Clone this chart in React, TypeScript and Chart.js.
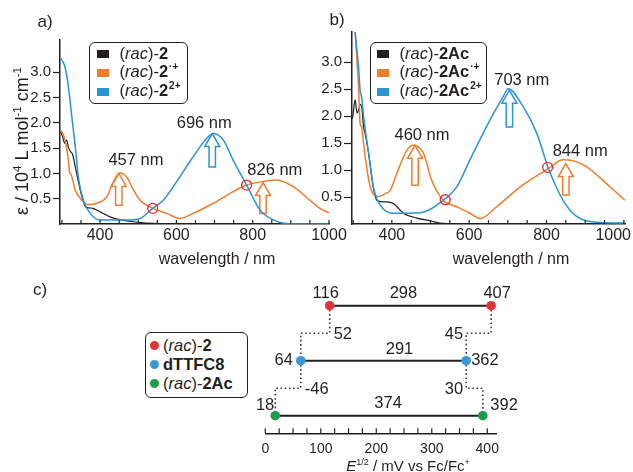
import React, { useEffect, useRef } from 'react';
import { Chart, registerables } from 'chart.js';

Chart.register(...registerables);

const FONT = '"Liberation Sans", Arial, Helvetica, sans-serif';
Chart.defaults.font.family = FONT;

const INK = '#231f20';
const COL_NEUTRAL = '#231f20';
const COL_RADICAL = '#ef7d2d';
const COL_DICATION = '#2a94d4';
const COL_ISO = '#e42a2e';

// ---------------- shared tick values / titles ----------------
const wavelengthTickLabels = [400, 600, 800, 1000];
const wavelengthMinorStep = 50;
const epsTickValues = [0.5, 1.0, 1.5, 2.0, 2.5, 3.0];
const potentialTickLabels = [0, 100, 200, 300, 400];
const potentialMinorStep = 25;
const xTitle = 'wavelength / nm';

// ---------------- panel a : (rac)-2 ----------------
const aCompound = '(rac)-2';
const seriesCharges = ['', '·+', '2+'];
const aNeutralNm = [297, 302, 307, 312, 317, 322, 328, 335, 342, 348, 355, 361, 370, 382, 392, 400, 413, 426, 442, 461, 482, 505, 540, 600, 700, 850, 1000];
const aNeutralEps = [1.82, 1.72, 1.6, 1.66, 1.52, 1.44, 1.38, 1.13, 0.88, 0.67, 0.47, 0.35, 0.32, 0.31, 0.27, 0.24, 0.19, 0.14, 0.1, 0.07, 0.05, 0.03, 0.015, 0.005, 0, 0, 0];
const aRadicalNm = [297, 300, 308, 317, 320, 324, 335, 352, 369, 391, 418, 435, 451, 470, 487, 505, 538, 575, 609, 644, 697, 749, 784, 827, 863, 906, 950, 976, 1000];
const aRadicalEps = [1.85, 1.82, 1.67, 1.26, 1.03, 0.98, 0.67, 0.47, 0.38, 0.41, 0.54, 0.84, 1.01, 0.93, 0.68, 0.47, 0.31, 0.21, 0.11, 0.21, 0.41, 0.64, 0.77, 0.84, 0.87, 0.74, 0.47, 0.31, 0.22];
const aDicationNm = [297, 300, 308, 317, 326, 335, 343, 356, 374, 400, 470, 505, 538, 566, 592, 644, 679, 697, 723, 749, 784, 819, 854, 889, 950, 1000];
const aDicationEps = [3.28, 3.24, 3.11, 2.71, 2.12, 1.53, 0.93, 0.47, 0.21, 0.08, 0.08, 0.11, 0.31, 0.47, 0.74, 1.33, 1.69, 1.79, 1.66, 1.26, 0.77, 0.28, 0.08, 0.01, 0, 0];
const aIsoNm = [538, 784];
const aIsoEps = [0.31, 0.77];
const aPeakNm = [457, 696, 826];

// ---------------- panel b : (rac)-2Ac ----------------
const bCompound = '(rac)-2Ac';
const bNeutralNm = [297, 299, 305, 310, 314, 318, 322, 327, 331, 340, 352, 361, 375, 387, 404, 430, 465, 499, 533, 600, 800, 1003];
const bNeutralEps = [1.95, 1.99, 2.3, 2.06, 2.11, 2.22, 2.17, 1.8, 1.68, 1.31, 0.69, 0.44, 0.41, 0.41, 0.38, 0.2, 0.11, 0.06, 0.01, 0, 0, 0];
const bRadicalNm = [297, 305, 310, 314, 318, 322, 326, 331, 344, 365, 380, 396, 413, 439, 456, 470, 482, 503, 533, 568, 602, 628, 671, 732, 805, 843, 870, 904, 964, 1003];
const bRadicalEps = [4.2, 3.6, 3.0, 2.54, 1.86, 1.8, 1.55, 1.25, 0.69, 0.51, 0.55, 0.63, 0.94, 1.37, 1.46, 1.42, 1.31, 0.81, 0.44, 0.32, 0.2, 0.1, 0.32, 0.69, 1.03, 1.19, 1.17, 1.06, 0.69, 0.44];
const bDicationNm = [297, 305, 314, 318, 322, 327, 340, 352, 370, 404, 473, 533, 568, 602, 654, 688, 701, 740, 775, 805, 843, 878, 938, 1003];
const bDicationEps = [4.3, 3.56, 2.91, 2.48, 2.35, 1.99, 1.31, 0.69, 0.35, 0.2, 0.21, 0.44, 0.69, 1.19, 1.93, 2.36, 2.51, 2.17, 1.68, 1.03, 0.44, 0.14, 0.03, 0.02];
const bIsoNm = [538, 803];
const bIsoEps = [0.45, 1.05];
const bPeakNm = [460, 703, 844];

// ---------------- panel c : redox potentials ----------------
const compounds = ['(rac)-2', 'dTTFC8', '(rac)-2Ac'];
const compoundColors = ['#e3343a', '#3a98d6', '#1d9c4c'];
const eFirst = [116, 64, 18];
const eSecond = [407, 362, 392];
const eGapLabels = [298, 291, 374];
const shiftFirst = [52, -46];
const shiftSecond = [45, 30];

// ---------------- layout (not data) ----------------
const panelA = {
  letter: 'a)', letterPos: [45, 22], compound: aCompound,
  series: [
    { nm: aNeutralNm, eps: aNeutralEps, color: COL_NEUTRAL, width: 1.2 },
    { nm: aRadicalNm, eps: aRadicalEps, color: COL_RADICAL, width: 1.5 },
    { nm: aDicationNm, eps: aDicationEps, color: COL_DICATION, width: 1.5 },
  ],
  isoNm: aIsoNm, isoEps: aIsoEps,
  arrows: [
    { nm: 449, from: 0.37, to: 1.0, color: COL_RADICAL },
    { nm: 694, from: 1.13, to: 1.79, color: COL_DICATION },
    { nm: 827, from: 0.21, to: 0.82, color: COL_RADICAL },
  ],
  peaks: aPeakNm, peakAnchors: [[494, 1.25], [673, 1.99], [858, 1.05]],
  xMin: 295, xMax: 1000, yMax: 3.64,
  canvasLeft: 0, canvasW: 350, canvasH: 272, yAxisWidth: 60, padTop: 40, padRight: 21, bottom: 224,
  tickLen: 7, showYTitle: true,
};
const panelB = {
  letter: 'b)', letterPos: [37, 20], compound: bCompound,
  series: [
    { nm: bNeutralNm, eps: bNeutralEps, color: COL_NEUTRAL, width: 1.2 },
    { nm: bRadicalNm, eps: bRadicalEps, color: COL_RADICAL, width: 1.5 },
    { nm: bDicationNm, eps: bDicationEps, color: COL_DICATION, width: 1.5 },
  ],
  isoNm: bIsoNm, isoEps: bIsoEps,
  arrows: [
    { nm: 460, from: 0.72, to: 1.46, color: COL_RADICAL },
    { nm: 704, from: 1.8, to: 2.48, color: COL_DICATION },
    { nm: 850, from: 0.54, to: 1.12, color: COL_RADICAL },
  ],
  peaks: bPeakNm, peakAnchors: [[478, 1.65], [736, 2.67], [887, 1.34]],
  xMin: 297, xMax: 1003, yMax: 3.56,
  canvasLeft: 300, canvasW: 333, canvasH: 272, yAxisWidth: 52, padTop: 32, padRight: 8, bottom: 224,
  tickLen: 8, showYTitle: false,
};

type Part = { t: string; sup?: boolean; italic?: boolean; bold?: boolean };

function drawRich(ctx: any, parts: Part[], size: number, supSize: number, x: number, y: number, align: string) {
  const fontFor = (p: Part) => `${p.italic ? 'italic ' : ''}${p.bold ? 'bold ' : ''}${p.sup ? supSize : size}px ${FONT}`;
  let total = 0;
  parts.forEach((p) => { ctx.font = fontFor(p); total += ctx.measureText(p.t).width; });
  let cx = align === 'center' ? x - total / 2 : align === 'right' ? x - total : x;
  ctx.textAlign = 'left';
  ctx.textBaseline = 'alphabetic';
  parts.forEach((p) => {
    ctx.font = fontFor(p);
    ctx.fillText(p.t, cx, p.sup ? y - size * 0.4 : y);
    cx += ctx.measureText(p.t).width;
  });
}

function spectrumDecor(P: any) {
  return {
    id: 'spectrumDecor',
    beforeDatasetsDraw(chart: any) {
      const { ctx } = chart;
      const xs = chart.scales.x, ys = chart.scales.y;
      ctx.save();
      P.arrows.forEach((a: any) => {
        const x = xs.getPixelForValue(a.nm);
        const tip = ys.getPixelForValue(a.to);
        const base = ys.getPixelForValue(a.from);
        const hh = 13, hw = 7.5, sw = 3.2;
        ctx.beginPath();
        ctx.moveTo(x, tip);
        ctx.lineTo(x + hw, tip + hh);
        ctx.lineTo(x + sw, tip + hh);
        ctx.lineTo(x + sw, base);
        ctx.lineTo(x - sw, base);
        ctx.lineTo(x - sw, tip + hh);
        ctx.lineTo(x - hw, tip + hh);
        ctx.closePath();
        ctx.fillStyle = '#ffffff';
        ctx.fill();
        ctx.lineWidth = 1.5;
        ctx.lineJoin = 'miter';
        ctx.strokeStyle = a.color;
        ctx.stroke();
      });
      ctx.restore();
    },
    afterDraw(chart: any) {
      const { ctx, chartArea: area } = chart;
      const xs = chart.scales.x, ys = chart.scales.y;
      ctx.save();
      // inward minor ticks on the wavelength axis
      ctx.strokeStyle = INK;
      ctx.lineWidth = 1.2;
      for (let v = Math.ceil(P.xMin / wavelengthMinorStep) * wavelengthMinorStep; v <= P.xMax; v += wavelengthMinorStep) {
        const px = xs.getPixelForValue(v);
        ctx.beginPath();
        ctx.moveTo(px, area.bottom);
        ctx.lineTo(px, area.bottom - 4);
        ctx.stroke();
      }
      // tick labels
      ctx.fillStyle = INK;
      ctx.font = `16px ${FONT}`;
      ctx.textAlign = 'center';
      ctx.textBaseline = 'alphabetic';
      wavelengthTickLabels.forEach((v) => {
        const s = String(v);
        const w = ctx.measureText(s).width;
        let px = xs.getPixelForValue(v);
        px = Math.min(px, chart.width - 2 - w / 2);
        ctx.fillText(s, px, area.bottom + 15.5);
      });
      // axis title
      ctx.font = `16px ${FONT}`;
      ctx.fillText(xTitle, (area.left + area.right) / 2 + 22.5, 264);
      // y title
      if (P.showYTitle) {
        ctx.save();
        ctx.translate(22, 141);
        ctx.rotate(-Math.PI / 2);
        drawRich(ctx, [
          { t: 'ε', italic: false },
          { t: ' / 10' },
          { t: '4', sup: true },
          { t: ' L mol' },
          { t: '-1', sup: true },
          { t: ' cm' },
          { t: '-1', sup: true },
        ], 18, 11.5, 0, 6, 'center');
        ctx.restore();
      }
      // peak labels
      ctx.fillStyle = INK;
      ctx.font = `16.5px ${FONT}`;
      ctx.textAlign = 'center';
      ctx.textBaseline = 'middle';
      P.peaks.forEach((nm: number, i: number) => {
        const [ax, ay] = P.peakAnchors[i];
        ctx.fillText(`${nm} nm`, xs.getPixelForValue(ax), ys.getPixelForValue(ay));
      });
      // panel letter
      ctx.font = `17px ${FONT}`;
      ctx.fillText(P.letter, P.letterPos[0], P.letterPos[1]);
      ctx.restore();
    },
  };
}

function spectrumConfig(P: any): any {
  const orders = [3, 2, 1];
  const datasets: any[] = P.series.map((s: any, k: number) => ({
    label: `${P.compound}${seriesCharges[k]}`,
    data: s.nm.map((x: number, i: number) => ({ x, y: s.eps[i] })),
    showLine: true,
    borderColor: s.color,
    backgroundColor: s.color,
    borderWidth: s.width,
    pointRadius: 0,
    cubicInterpolationMode: 'monotone',
    fill: false,
    order: orders[k],
  }));
  datasets.push({
    label: 'isosbestic points',
    data: P.isoNm.map((x: number, i: number) => ({ x, y: P.isoEps[i] })),
    showLine: false,
    pointRadius: 5,
    pointBorderColor: COL_ISO,
    pointBackgroundColor: 'rgba(0,0,0,0)',
    pointBorderWidth: 1.3,
    order: 0,
    clip: false,
  });
  return {
    type: 'scatter',
    data: { datasets },
    options: {
      responsive: false,
      animation: false,
      events: [],
      layout: { padding: { top: P.padTop, right: P.padRight, left: 0, bottom: 0 } },
      plugins: { legend: { display: false }, tooltip: { enabled: false } },
      scales: {
        x: {
          type: 'linear', min: P.xMin, max: P.xMax,
          grid: { display: false },
          ticks: { display: false },
          border: { display: true, color: INK, width: 1.5 },
          afterFit: (s: any) => { s.height = P.canvasH - P.bottom; },
        },
        y: {
          type: 'linear', min: 0, max: P.yMax,
          afterBuildTicks: (s: any) => { s.ticks = epsTickValues.map((v) => ({ value: v })); },
          ticks: { font: { size: 15, family: FONT }, color: INK, padding: 2, callback: (v: any) => Number(v).toFixed(1) },
          grid: { display: true, drawOnChartArea: false, drawTicks: true, tickLength: P.tickLen, tickColor: INK, tickWidth: 1.2 },
          border: { display: true, color: INK, width: 1.5 },
          afterFit: (s: any) => { s.width = P.yAxisWidth; },
        },
      },
    },
    plugins: [spectrumDecor(P)],
  };
}

// panel c layout
const C_TOP = 262;
const C_H = 210;
const levels = compounds.map((_, i) => compounds.length - i);
const pointLabelPlacement = [
  { firstAlign: 'center', firstDx: -4, secondAlign: 'center', secondDx: 6, dy: -12.5 },
  { firstAlign: 'right', firstDx: -8, secondAlign: 'left', secondDx: 5, dy: 0 },
  { firstAlign: 'right', firstDx: -1, secondAlign: 'left', secondDx: 7.5, dy: -10.5 },
];
const gapLabelDx = [-7, 16, 9];
const gapLabelDy = [-12.5, -11.5, -12.5];

const diagramDecor = {
  id: 'diagramDecor',
  afterDraw(chart: any) {
    const { ctx, chartArea: area } = chart;
    const xs = chart.scales.x, ys = chart.scales.y;
    const X = (v: number) => xs.getPixelForValue(v);
    const Y = (v: number) => ys.getPixelForValue(v);
    ctx.save();
    ctx.strokeStyle = INK;
    ctx.lineWidth = 1.2;
    for (let v = 0; v <= xs.max + 0.01; v += potentialMinorStep) {
      const px = X(v);
      ctx.beginPath();
      ctx.moveTo(px, area.bottom);
      ctx.lineTo(px, area.bottom - 5);
      ctx.stroke();
    }
    ctx.fillStyle = INK;
    ctx.textAlign = 'center';
    ctx.textBaseline = 'alphabetic';
    ctx.font = `14px ${FONT}`;
    potentialTickLabels.forEach((v) => ctx.fillText(String(v), X(v), area.bottom + 20));
    drawRich(ctx, [
      { t: 'E', italic: true },
      { t: '1/2', sup: true },
      { t: ' / mV vs Fc/Fc' },
      { t: '+', sup: true },
    ], 15, 9, (area.left + area.right) / 2 + 27, 209, 'center');

    ctx.font = `17px ${FONT}`;
    ctx.textAlign = 'center';
    ctx.textBaseline = 'middle';
    ctx.fillText('c)', 40, 28);

    ctx.font = `16.5px ${FONT}`;
    ctx.textBaseline = 'middle';
    compounds.forEach((_, i) => {
      const y = Y(levels[i]);
      const x1 = X(eFirst[i]);
      const x2 = X(eSecond[i]);
      const pl = pointLabelPlacement[i];
      ctx.textAlign = pl.firstAlign;
      ctx.fillText(String(eFirst[i]), x1 + pl.firstDx, y + pl.dy);
      ctx.textAlign = pl.secondAlign;
      ctx.fillText(String(eSecond[i]), x2 + pl.secondDx, y + pl.dy);
      ctx.textAlign = 'center';
      ctx.fillText(String(eGapLabels[i]), (x1 + x2) / 2 + gapLabelDx[i], y + gapLabelDy[i]);
    });
    for (let i = 0; i < compounds.length - 1; i++) {
      const yMid = Y((levels[i] + levels[i + 1]) / 2);
      ctx.textAlign = 'left';
      ctx.fillText(String(shiftFirst[i]), X(Math.max(eFirst[i], eFirst[i + 1])) + 4, yMid + 1);
      ctx.textAlign = 'right';
      ctx.fillText(String(shiftSecond[i]), X(Math.min(eSecond[i], eSecond[i + 1])) - 3, yMid + 1);
    }
    ctx.restore();
  },
};

function diagramConfig(): any {
  const datasets: any[] = compounds.map((name, i) => ({
    label: name,
    data: [{ x: eFirst[i], y: levels[i] }, { x: eSecond[i], y: levels[i] }],
    showLine: true,
    borderColor: INK,
    borderWidth: 2,
    pointRadius: 4.8,
    pointBackgroundColor: compoundColors[i],
    pointBorderColor: compoundColors[i],
    pointBorderWidth: 0,
    order: 0,
    clip: false,
  }));
  for (let i = 0; i < compounds.length - 1; i++) {
    const yMid = (levels[i] + levels[i + 1]) / 2;
    [[eFirst[i], eFirst[i + 1]], [eSecond[i], eSecond[i + 1]]].forEach(([a, b]) => {
      datasets.push({
        label: 'shift',
        data: [{ x: a, y: levels[i] }, { x: a, y: yMid }, { x: b, y: yMid }, { x: b, y: levels[i + 1] }],
        showLine: true,
        borderColor: '#3a3a3a',
        borderWidth: 1.6,
        borderDash: [1.6, 2.6],
        pointRadius: 0,
        order: 1,
        clip: false,
      });
    });
  }
  return {
    type: 'scatter',
    data: { datasets },
    options: {
      responsive: false,
      animation: false,
      events: [],
      layout: { padding: { top: 18, left: 265.3, right: 633 - 496.7, bottom: 0 } },
      plugins: { legend: { display: false }, tooltip: { enabled: false } },
      scales: {
        x: {
          type: 'linear', min: 0, max: 417,
          grid: { display: false },
          ticks: { display: false },
          border: { display: true, color: INK, width: 1.5 },
          afterFit: (s: any) => { s.height = C_H - (433.3 - C_TOP); },
        },
        y: { type: 'linear', display: false, min: 0.68, max: 3.467 },
      },
    },
    plugins: [diagramDecor],
  };
}

function RichName({ name, charge }: { name: string; charge?: string }) {
  const rac = name.startsWith('(rac)-');
  const rest = rac ? name.slice(6) : name;
  return (
    <span>
      {rac ? (<>(<i>rac</i>)-</>) : null}
      <b>{rest}</b>
      {charge ? (
        <b style={{ fontSize: 10, position: 'relative', top: -7, marginLeft: 1 }}>{charge}</b>
      ) : null}
    </span>
  );
}

function LegendBox({ left, top, width, height, padTop, children }: any) {
  return (
    <div
      style={{
        position: 'absolute', left, top, width, height, boxSizing: 'border-box',
        border: `1.5px solid ${INK}`, borderRadius: 6, background: '#fff',
        fontSize: 16.5, lineHeight: '19px', paddingTop: padTop, color: INK, fontFamily: FONT,
        whiteSpace: 'nowrap',
      }}
    >
      {children}
    </div>
  );
}

function SpectrumLegend({ left, swatchLeft, compound }: any) {
  const colors = [COL_NEUTRAL, COL_RADICAL, COL_DICATION];
  return (
    <LegendBox left={left} top={41.7} width={compound.length > 7 ? 117 : 99} height={62.3} padTop={1.5}>
      {seriesCharges.map((ch, k) => (
        <div key={k} style={{ display: 'flex', alignItems: 'center', height: 19 }}>
          <span style={{ display: 'inline-block', width: 12, height: 8, background: colors[k], marginLeft: swatchLeft, marginRight: 11 }} />
          <RichName name={compound} charge={ch} />
        </div>
      ))}
    </LegendBox>
  );
}

export default function App() {
  const refA = useRef<HTMLCanvasElement>(null);
  const refB = useRef<HTMLCanvasElement>(null);
  const refC = useRef<HTMLCanvasElement>(null);

  useEffect(() => {
    const charts = [
      new Chart(refA.current as HTMLCanvasElement, spectrumConfig(panelA)),
      new Chart(refB.current as HTMLCanvasElement, spectrumConfig(panelB)),
      new Chart(refC.current as HTMLCanvasElement, diagramConfig()),
    ];
    return () => charts.forEach((c) => c.destroy());
  }, []);

  return (
    <div style={{ position: 'absolute', left: 0, top: 0, width: 633, height: 472, background: '#fff', overflow: 'hidden', fontFamily: FONT, color: INK }}>
      <canvas ref={refA} width={panelA.canvasW} height={panelA.canvasH}
        style={{ position: 'absolute', left: panelA.canvasLeft, top: 0, width: panelA.canvasW, height: panelA.canvasH }} />
      <canvas ref={refB} width={panelB.canvasW} height={panelB.canvasH}
        style={{ position: 'absolute', left: panelB.canvasLeft, top: 0, width: panelB.canvasW, height: panelB.canvasH }} />
      <canvas ref={refC} width={633} height={C_H}
        style={{ position: 'absolute', left: 0, top: C_TOP, width: 633, height: C_H }} />
      <SpectrumLegend left={89} swatchLeft={6.5} compound={aCompound} />
      <SpectrumLegend left={370} swatchLeft={5.5} compound={bCompound} />
      <LegendBox left={145} top={332} width={103} height={66} padTop={3}>
        {compounds.map((name, i) => (
          <div key={name} style={{ display: 'flex', alignItems: 'center', height: 19 }}>
            <span style={{ display: 'inline-block', width: 9, height: 9, borderRadius: '50%', background: compoundColors[i], marginLeft: 4, marginRight: 4 }} />
            <RichName name={name} />
          </div>
        ))}
      </LegendBox>
    </div>
  );
}
